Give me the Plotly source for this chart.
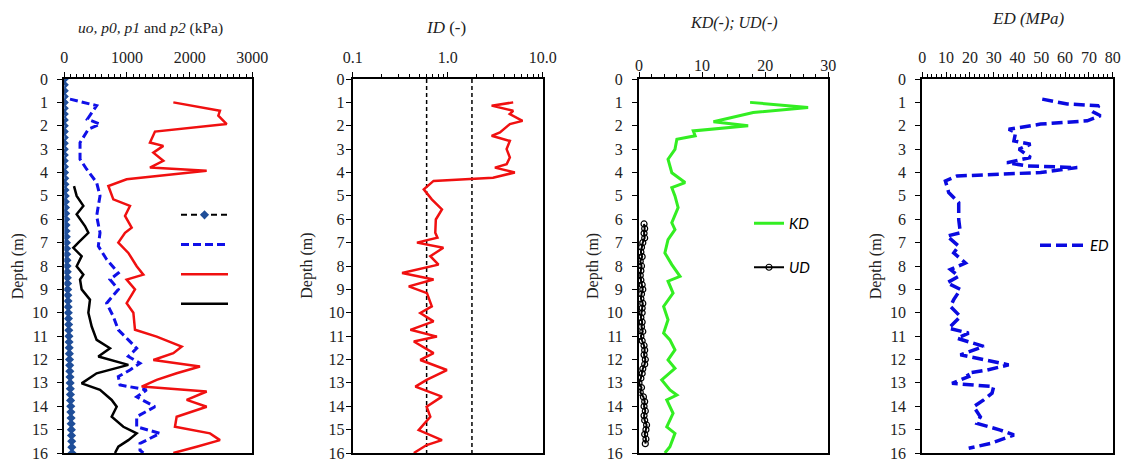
import plotly.graph_objects as go

# ---------------- data ----------------
# Panel 1: uo, p0, p1, p2 (kPa)
uo_depth = [0, 0.25, 0.5, 0.75, 1.0, 1.25, 1.5, 1.75, 2.0, 2.25, 2.5, 2.75, 3.0, 3.25, 3.5,
            3.75, 4.0, 4.25, 4.5, 4.75, 5.0, 5.25, 5.5, 5.75, 6.0, 6.25, 6.5, 6.75, 7.0,
            7.25, 7.5, 7.75, 8.0, 8.25, 8.5, 8.75, 9.0, 9.25, 9.5, 9.75, 10.0, 10.25, 10.5,
            10.75, 11.0, 11.25, 11.5, 11.75, 12.0, 12.25, 12.5, 12.75, 13.0, 13.25, 13.5,
            13.75, 14.0, 14.25, 14.5, 14.75, 15.0, 15.25, 15.5, 15.75, 16.0]
uo_kpa = [0, 0, 0, 0, 0, 0, 0, 0, 0, 0, 0, 0, 0, 0, 0,
          2, 5, 7, 10, 12, 15, 17, 20, 22, 25, 27, 29, 32, 34,
          37, 39, 42, 44, 47, 49, 52, 54, 56, 59, 61, 64, 66, 69,
          71, 74, 76, 78, 81, 83, 86, 88, 91, 93, 96, 98,
          100, 103, 105, 108, 110, 113, 115, 118, 120, 123]

p0_depth = [0.86, 1.14, 1.72, 1.93, 2.15, 2.72, 3.43, 3.86, 4.43, 5.0, 5.86, 6.58, 7.15, 7.72,
            8.3, 8.58, 9.0, 9.59, 10.16, 10.73, 11.16, 11.52, 11.87, 12.16, 12.45, 12.73,
            13.09, 13.3, 13.6, 14.02, 14.45, 14.88, 15.16, 15.59, 15.88, 16.0]
p0_kpa = [91, 516, 368, 570, 384, 251, 251, 357, 516, 570, 516, 570, 543, 676,
          862, 729, 862, 676, 782, 862, 1022, 1155, 1022, 1208, 1048, 862,
          889, 1314, 1155, 1447, 1155, 1155, 1527, 1208, 1208, 1261]

p1_depth = [1.0, 1.36, 1.57, 1.93, 2.25, 2.72, 2.86, 3.15, 3.5, 3.79, 3.93, 4.29, 4.58, 5.15,
            5.43, 5.86, 6.36, 6.58, 7.0, 7.44, 8.01, 8.37, 8.58, 9.0, 9.59, 10.0, 10.73,
            11.02, 11.45, 11.73, 12.02, 12.3, 12.59, 12.87, 13.16, 13.37, 13.73, 14.02,
            14.45, 14.88, 15.16, 15.45, 15.73, 16.0]
p1_kpa = [1740, 2484, 2458, 2591, 1447, 1367, 1580, 1421, 1580, 1367, 2272, 995, 703, 782,
          1048, 969, 1075, 969, 862, 1022, 1155, 1261, 995, 1128, 995, 1102, 1128,
          1474, 1873, 1740, 1421, 2165, 1793, 1474, 1235, 2272, 1953, 2272,
          1793, 1766, 2325, 2484, 2112, 1740]

p2_depth = [4.58, 5.0, 5.43, 5.79, 6.29, 6.58, 7.0, 7.22, 7.58, 8.01, 8.37, 8.58, 9.0, 9.44,
            10.0, 10.59, 11.16, 11.52, 11.87, 12.23, 12.59, 13.02, 13.3, 13.73, 14.02,
            14.45, 14.88, 15.16, 15.45, 15.73, 16.0]
p2_kpa = [155, 197, 304, 197, 330, 384, 224, 144, 277, 197, 304, 251, 277, 410,
          384, 437, 516, 729, 543, 1022, 516, 277, 570, 756, 836,
          756, 942, 1155, 1022, 862, 809]

# Panel 2: ID (-)
id_depth = [1.0, 1.14, 1.36, 1.5, 1.79, 1.93, 2.29, 2.43, 2.65, 3.0, 3.36, 3.65, 3.79, 4.0,
            4.22, 4.36, 4.72, 4.86, 5.15, 5.58, 6.01, 6.58, 6.79, 7.0, 7.22, 7.58, 7.94,
            8.3, 8.58, 8.87, 9.16, 9.73, 10.01, 10.37, 10.73, 11.02, 11.23, 11.73, 12.02,
            12.45, 12.87, 13.16, 13.59, 14.02, 14.45, 15.02, 15.45, 15.66, 16.0]
id_val = [4.89, 2.90, 4.89, 4.5, 6.13, 4.51, 3.55, 2.90, 4.51, 4.17, 4.51, 4.17, 3.14, 5.09,
          3.0, 0.71, 0.56, 0.60, 0.68, 0.87, 0.75, 0.74, 0.78, 0.475, 0.90, 0.656, 0.80,
          0.331, 0.71, 0.389, 0.605, 0.68, 0.515, 0.71, 0.405, 0.77, 0.44, 0.71, 0.515,
          0.98, 0.60, 0.457, 0.87, 0.60, 0.656, 0.495, 0.87, 0.60, 0.44]
id_bounds = [0.6, 1.8]
bound_depths = [0, 16]

# Panel 3: KD, UD
kd_depth = [1.0, 1.22, 1.43, 1.57, 1.83, 2.0, 2.22, 2.43, 2.58, 3.01, 3.43, 4.01, 4.43, 4.65,
            5.0, 5.5, 6.15, 6.44, 6.87, 7.44, 7.94, 8.44, 8.65, 9.16, 9.73, 10.3, 10.87,
            11.16, 11.59, 12.02, 12.38, 12.87, 13.3, 13.52, 13.73, 14.3, 14.88, 15.16,
            15.73, 16.0]
kd_val = [17.6, 26.8, 18.1, 16.0, 11.8, 17.3, 8.6, 8.9, 6.0, 5.7, 4.6, 5.2, 7.3, 5.2,
          5.7, 6.2, 5.2, 5.7, 4.6, 4.1, 5.2, 6.5, 4.6, 5.4, 3.9, 4.6, 3.9,
          4.9, 5.7, 4.6, 5.7, 3.6, 4.9, 6.0, 4.4, 5.4, 4.4, 5.7,
          4.9, 4.1]
ud_depth = [6.2, 6.4, 6.6, 6.8, 7.0, 7.2, 7.4, 7.6, 7.8, 8.0, 8.2, 8.4, 8.6, 8.8, 9.0, 9.2,
            9.4, 9.6, 9.8, 10.0, 10.2, 10.4, 10.6, 10.8, 11.0, 11.2, 11.4, 11.6, 11.8, 12.0,
            12.2, 12.4, 12.6, 12.8, 13.0, 13.2, 13.4, 13.6, 13.8, 14.0, 14.2, 14.4, 14.6,
            14.8, 15.0, 15.2, 15.4, 15.6]
ud_val = [0.8, 0.9, 0.8, 0.9, 0.6, 0.4, 0.3, 0.5, 0.2, 0.4, 0.3, 0.2, 0.3, 0.5, 0.6, 0.4,
          0.3, 0.6, 0.5, 0.5, 0.3, 0.5, 0.4, 0.6, 0.3, 0.5, 0.8, 0.9, 0.8, 1.0,
          0.9, 0.6, 0.5, 0.3, 0.0, 0.4, 0.2, 0.7, 0.9, 0.8, 1.0, 0.8, 0.9,
          1.2, 1.1, 0.9, 1.1, 1.0]

# Panel 4: ED (MPa)
ed_depth = [0.86, 1.07, 1.14, 1.43, 1.57, 1.79, 1.93, 2.15, 2.29, 2.65, 2.79, 3.0, 3.36, 3.58,
            3.72, 3.79, 4.0, 4.15, 4.36, 4.86, 5.29, 6.01, 6.58, 6.72, 7.15, 7.44, 7.87,
            8.15, 8.44, 8.72, 9.0, 9.44, 9.73, 10.16, 10.66, 10.87, 11.09, 11.44, 11.8,
            11.95, 12.23, 12.45, 12.59, 12.73, 13.02, 13.16, 13.44, 13.73, 14.02, 14.45,
            14.73, 15.02, 15.23, 15.59, 15.8]
ed_val = [50.4, 60.9, 74.2, 72.1, 74.9, 69.3, 49.7, 36.3, 39.2, 38.5, 45.5, 40.6, 45.5, 35.6,
          44.1, 65.1, 49.7, 14.6, 9.7, 11.1, 15.3, 15.3, 16.0, 10.4, 15.3, 13.2, 18.1,
          11.8, 15.3, 10.4, 16.0, 13.2, 11.8, 16.0, 11.1, 19.5, 14.6, 25.8, 16.0,
          23.0, 36.3, 27.2, 18.8, 19.5, 12.5, 30.0, 29.3, 25.8, 21.6, 24.4,
          23.0, 32.8, 38.5, 28.6, 19.5]

p1_ticks = [0, 1000, 2000, 3000]
id_ticks = [0.1, 1.0, 10.0]
id_ticktext = ["0.1", "1.0", "10.0"]
id_minor = [0.2, 0.3, 0.4, 0.5, 0.6, 0.7, 0.8, 0.9, 2, 3, 4, 5, 6, 7, 8, 9]

# ---------------- figure ----------------
W, H = 1122, 459
SERIF = "Liberation Serif"
SANS = "Lato"
RED = "#f01010"

fig = go.Figure()

# panel 1
fig.add_trace(go.Scatter(x=uo_kpa, y=uo_depth, mode="lines+markers", name=" ",
                         line=dict(color="black", width=2, dash="6px,4px"),
                         marker=dict(symbol="diamond", size=7, color="#1f4e99"),
                         xaxis="x", yaxis="y", legend="legend"))
fig.add_trace(go.Scatter(x=p0_kpa, y=p0_depth, mode="lines", name=" ",
                         line=dict(color="#1010e8", width=3, dash="8px,4px"),
                         xaxis="x", yaxis="y", legend="legend"))
fig.add_trace(go.Scatter(x=p1_kpa, y=p1_depth, mode="lines", name=" ",
                         line=dict(color=RED, width=2.5),
                         xaxis="x", yaxis="y", legend="legend"))
fig.add_trace(go.Scatter(x=p2_kpa, y=p2_depth, mode="lines", name=" ",
                         line=dict(color="black", width=2.5),
                         xaxis="x", yaxis="y", legend="legend"))

# panel 2
for b in id_bounds:
    fig.add_trace(go.Scatter(x=[b, b], y=bound_depths, mode="lines", showlegend=False,
                             line=dict(color="black", width=1.5, dash="4px,3px"),
                             xaxis="x2", yaxis="y2"))
fig.add_trace(go.Scatter(x=id_val, y=id_depth, mode="lines", showlegend=False,
                         line=dict(color=RED, width=2.5),
                         xaxis="x2", yaxis="y2"))

# panel 3
fig.add_trace(go.Scatter(x=kd_val, y=kd_depth, mode="lines", name="<i>KD</i>",
                         line=dict(color="#33ee22", width=3),
                         xaxis="x3", yaxis="y3", legend="legend2", legendgroup="kd"))
fig.add_trace(go.Scatter(x=ud_val, y=ud_depth, mode="lines+markers", name="<i>UD</i>",
                         line=dict(color="black", width=2),
                         marker=dict(symbol="circle-open", size=6, color="black",
                                     line=dict(width=1.2)),
                         xaxis="x3", yaxis="y3", legend="legend2", legendgroup="ud"))

# panel 4
fig.add_trace(go.Scatter(x=ed_val, y=ed_depth, mode="lines", name="<i>ED</i>",
                         line=dict(color="#0a0ae0", width=3.5, dash="11px,5px"),
                         xaxis="x4", yaxis="y4", legend="legend3"))

# axes geometry (pixels)
top, bottom = 79, 453
panels = [(64.3, 252.3), (352.7, 542.7), (639.0, 828.3), (922.3, 1112.7)]


def px2paper_x(px):
    return px / W


def py2paper_y(py):
    return (bottom - py) / (bottom - top)


axis_common = dict(showline=True, linecolor="black", linewidth=2, mirror=True,
                   showgrid=False, zeroline=False, ticks="outside", tickcolor="black",
                   tickwidth=1, automargin=False, ticklabeloverflow="allow")

xcfg = [
    dict(range=[0, 3000], tickvals=p1_ticks, ticklen=5,
         minor=dict(dtick=100, ticks="outside", ticklen=3, tickcolor="black")),
    dict(type="log", range=[-1, 1], tickvals=id_ticks, ticktext=id_ticktext, ticklen=5,
         minor=dict(tickvals=id_minor, ticks="outside", ticklen=3, tickcolor="black")),
    dict(range=[0, 30], dtick=10, ticklen=5,
         minor=dict(dtick=2, ticks="outside", ticklen=3, tickcolor="black")),
    dict(range=[0, 80], dtick=10, ticklen=5,
         minor=dict(dtick=2, ticks="outside", ticklen=3, tickcolor="black")),
]
xlabel_standoff = [3, 3, -5, 3]
ylabel_standoff = [6, -2, 6, 6]

for i, (l, r) in enumerate(panels):
    sfx = "" if i == 0 else str(i + 1)
    xa = dict(axis_common)
    xa.update(xcfg[i])
    xa.update(domain=[px2paper_x(l), px2paper_x(r)], side="top", anchor="y" + sfx,
              tickfont=dict(family=SERIF, size=16, color="#222"),
              ticklabelstandoff=xlabel_standoff[i])
    ya = dict(axis_common)
    ya.update(range=[16, 0], tickvals=list(range(17)), ticklen=5, domain=[0, 1],
              anchor="x" + sfx,
              tickfont=dict(family=SERIF, size=16, color="#222"),
              ticklabelstandoff=ylabel_standoff[i])
    fig.layout["xaxis" + sfx] = xa
    fig.layout["yaxis" + sfx] = ya

# titles
titles = [
    ("<i>uo, p0, p1</i> and <i>p2</i> (kPa)", 150, 28, 15.5),
    ("<i>ID</i> (-)", 446, 28, 17),
    ("<i>KD(-); UD(-)</i>", 734, 23, 16),
    ("<i>ED (MPa)</i>", 1028, 18, 17),
]
for text, xp, yp, fs in titles:
    fig.add_annotation(text=text, x=px2paper_x(xp), y=py2paper_y(yp), xref="paper",
                       yref="paper", showarrow=False, xanchor="center", yanchor="middle",
                       font=dict(family=SERIF, size=fs, color="#222"))

for l, r in panels:
    fig.add_annotation(text="Depth (m)", x=px2paper_x(l - 46), y=0.5, xref="paper",
                       yref="paper", showarrow=False, textangle=-90,
                       xanchor="center", yanchor="middle",
                       font=dict(family=SERIF, size=16, color="#222"))

legend_common = dict(bgcolor="rgba(0,0,0,0)", borderwidth=0, xanchor="left",
                     yanchor="top", xref="paper", yref="paper")
fig.update_layout(
    width=W, height=H,
    margin=dict(l=0, r=0, t=top, b=H - bottom),
    paper_bgcolor="white", plot_bgcolor="white",
    legend=dict(legend_common, x=px2paper_x(176), y=py2paper_y(195), traceorder="normal",
                font=dict(family=SANS, size=20.5), itemwidth=47),
    legend2=dict(legend_common, x=px2paper_x(749), y=py2paper_y(207), traceorder="grouped",
                 font=dict(family=SANS, size=15, color="black"), tracegroupgap=21.5),
    legend3=dict(legend_common, x=px2paper_x(1035), y=py2paper_y(229), traceorder="normal",
                 font=dict(family=SANS, size=15, color="black"), itemwidth=45),
    showlegend=True,
)

fig.write_html("out.html", config={"displayModeBar": False},
               post_script="document.body.style.margin='0px';")
